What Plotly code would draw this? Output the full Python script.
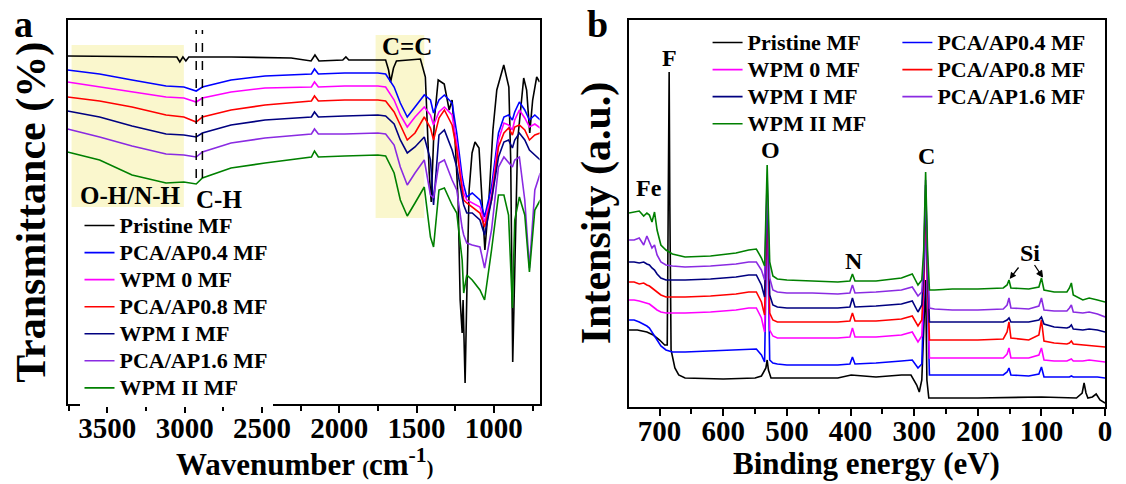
import plotly.graph_objects as go

W, H = 1126, 484
FONT = "Liberation Serif"

NAMES = ["Pristine MF", "PCA/AP0.4 MF", "WPM 0 MF", "PCA/AP0.8 MF",
         "WPM I MF", "PCA/AP1.6 MF", "WPM II MF"]
COLORS = ["#000000", "#0000ff", "#ff00ff", "#ff0000", "#000080", "#8a2be2", "#008000"]

# ---------------- FTIR (panel a) ----------------
WN_PRISTINE = [3757, 3050, 3031, 3011, 2992, 2973, 2697, 2311, 2182, 2157, 2131, 1977, 1957, 1938,
               1700, 1681, 1668, 1649, 1630, 1475, 1443, 1418, 1405, 1385, 1360, 1321, 1289, 1270,
               1250, 1231, 1218, 1205, 1199, 1186, 1173, 1160, 1141, 1122, 1096, 1077, 1058, 1032,
               1006, 981, 936, 903, 891, 878, 865, 846, 807, 788, 768, 749, 723, 704]
T_PRISTINE = [348, 347, 342, 347, 343, 347, 347, 346, 343, 349, 343, 344, 347, 344,
              344, 334, 322, 336, 343, 345, 327, 231, 202, 284, 324, 320, 294, 304,
              261, 204, 104, 71, 104, 21, 124, 214, 251, 262, 256, 204, 154, 204,
              274, 314, 339, 317, 244, 42, 124, 264, 326, 314, 271, 304, 327, 322]

WN_COATED = [3757, 3550, 3340, 3120, 3005, 2925, 2885, 2700, 2480, 2180, 2160, 2135, 1965, 1750,
             1700, 1645, 1605, 1560, 1510, 1450, 1410, 1390, 1355, 1320, 1270, 1240, 1205, 1195,
             1175, 1140, 1090, 1060, 1015, 970, 935, 905, 880, 865, 835, 800, 770, 735, 700]
T_PCA04 = [334, 330, 324, 318, 317, 313, 317, 324, 328, 330, 335, 330, 331, 331, 330, 317, 301, 287,
           297, 309, 304, 291, 304, 309, 301, 271, 227, 219, 207, 211, 204, 187, 217, 271, 287, 289,
           284, 292, 302, 294, 284, 289, 284]
T_WPM0 = [322, 317, 312, 307, 306, 302, 306, 312, 316, 317, 322, 317, 318, 318, 317, 304, 289, 277,
          287, 297, 289, 279, 292, 297, 289, 261, 219, 211, 204, 201, 197, 182, 209, 264, 281, 279,
          274, 284, 294, 286, 277, 280, 276]
T_PCA08 = [307, 303, 297, 289, 287, 282, 287, 294, 299, 303, 308, 303, 304, 304, 303, 292, 279, 264,
           271, 287, 276, 264, 286, 294, 279, 254, 214, 204, 201, 197, 191, 177, 204, 257, 271, 276,
           269, 277, 279, 274, 264, 269, 271]
T_WPMI = [293, 287, 278, 270, 269, 267, 271, 279, 284, 287, 292, 287, 288, 289, 288, 280, 264, 251,
          257, 267, 244, 199, 269, 274, 254, 237, 207, 199, 191, 191, 184, 169, 204, 247, 262, 264,
          256, 264, 271, 264, 254, 249, 244]
T_PCA16 = [275, 267, 258, 250, 249, 247, 252, 261, 266, 270, 275, 270, 270, 271, 270, 259, 237, 219,
           231, 244, 209, 206, 241, 244, 224, 214, 176, 169, 161, 159, 157, 136, 174, 237, 247, 242,
           237, 244, 247, 204, 136, 214, 231]
T_WPMII = [252, 244, 229, 221, 222, 220, 226, 236, 241, 247, 253, 247, 248, 249, 248, 231, 204, 188,
           201, 217, 167, 157, 214, 216, 199, 191, 144, 111, 129, 124, 114, 104, 154, 209, 209, 189,
           96, 184, 207, 189, 132, 194, 204]
FTIR_TICKS = [1000, 1500, 2000, 2500, 3000, 3500]

# ---------------- XPS (panel b) ----------------
BE_PRISTINE = [748, 735, 720, 710, 700, 692, 688, 686, 685, 684, 682, 676, 670, 660, 600, 550,
               540, 533, 531, 529, 525, 500, 420, 399, 360, 320, 305, 296, 292, 288, 284, 282,
               280, 277, 270, 200, 100, 45, 36, 33, 30, 27, 20, 14, 8, 3, 0]
I_PRISTINE = [77, 77, 75, 72, 67, 62, 62, 207, 335, 207, 57, 39, 32, 29, 28, 29,
              31, 39, 47, 37, 29, 29, 29, 32, 30, 32, 32, 22, 15, 27, 107, 127,
              27, 9, 9, 9, 10, 9, 14, 24, 14, 9, 10, 13, 7, 5, 4]

BE_COATED = [748, 740, 732, 725, 720, 716, 712, 708, 704, 698, 690, 680, 660, 620, 580, 560,
             548, 540, 535, 531, 527, 522, 515, 500, 460, 420, 401, 397, 393, 360, 320, 303,
             294, 288, 285, 282, 279, 276, 268, 240, 200, 160, 154, 151, 148, 120, 104, 100,
             96, 80, 60, 56, 53, 50, 35, 25, 12, 0]
I_PCA04 = [87, 87, 85, 83, 81, 79, 75, 71, 67, 61, 57, 55, 55, 56, 57, 58, 58, 52, 45, 202,
           47, 44, 43, 42, 42, 42, 43, 50, 43, 44, 46, 47, 39, 43, 107, 207, 107, 32, 32, 32,
           32, 32, 35, 39, 32, 31, 33, 40, 30, 30, 30, 30, 31, 30, 30, 30, 30, 29]
I_WPM0 = [107, 107, 106, 105, 104, 103, 101, 99, 97, 95, 94, 94, 94, 95, 97, 99, 99, 89, 75, 211,
          77, 71, 69, 69, 69, 69, 70, 79, 70, 70, 72, 75, 65, 71, 117, 212, 117, 49, 49, 49,
          49, 49, 53, 59, 49, 49, 52, 59, 47, 46, 46, 47, 48, 46, 46, 47, 46, 45]
I_PCA08 = [125, 125, 123, 124, 122, 121, 119, 117, 115, 112, 110, 110, 110, 111, 113, 115, 115, 105,
           92, 215, 94, 87, 85, 85, 85, 85, 86, 94, 86, 86, 88, 91, 81, 87, 127, 217, 127, 67, 67,
           67, 67, 68, 75, 85, 69, 67, 72, 87, 66, 64, 63, 64, 66, 63, 62, 62, 61, 60]
I_WPMI = [145, 145, 144, 145, 143, 142, 139, 137, 133, 129, 127, 127, 127, 128, 130, 132, 132, 122,
          110, 219, 112, 102, 100, 99, 99, 99, 100, 109, 100, 101, 103, 106, 95, 102, 137, 222, 137,
          85, 85, 85, 85, 85, 87, 89, 85, 85, 87, 90, 83, 80, 79, 80, 82, 78, 77, 78, 77, 75]
I_PCA16 = [167, 167, 169, 162, 171, 164, 159, 162, 152, 145, 142, 141, 140, 141, 143, 145, 145, 137,
           127, 229, 129, 117, 115, 114, 114, 113, 114, 122, 114, 115, 117, 120, 111, 115, 147, 227,
           147, 99, 98, 97, 97, 98, 102, 109, 99, 98, 101, 109, 97, 96, 96, 99, 102, 95, 94, 95, 93, 90]
I_WPMII = [194, 195, 196, 191, 194, 192, 185, 195, 177, 162, 157, 153, 150, 151, 154, 157, 158, 149,
           141, 242, 145, 131, 128, 127, 126, 125, 126, 133, 126, 126, 129, 133, 122, 127, 157, 235,
           157, 117, 117, 118, 118, 119, 122, 127, 119, 118, 120, 129, 117, 115, 115, 119, 124, 112,
           107, 109, 107, 105]
XPS_TICKS = [0, 100, 200, 300, 400, 500, 600, 700]

FTIR = [(WN_PRISTINE, T_PRISTINE), (WN_COATED, T_PCA04), (WN_COATED, T_WPM0), (WN_COATED, T_PCA08),
        (WN_COATED, T_WPMI), (WN_COATED, T_PCA16), (WN_COATED, T_WPMII)]
XPS = [(BE_PRISTINE, I_PRISTINE), (BE_COATED, I_PCA04), (BE_COATED, I_WPM0), (BE_COATED, I_PCA08),
       (BE_COATED, I_WPMI), (BE_COATED, I_PCA16), (BE_COATED, I_WPMII)]
XPS_LEGEND = ["legend2", "legend3", "legend2", "legend3", "legend2", "legend3", "legend2"]

for xs, ys in FTIR + XPS:
    if len(xs) != len(ys):
        raise ValueError("length mismatch %d %d" % (len(xs), len(ys)))


def px(x):
    return x / W


def py(y):
    return 1 - y / H


def legend_name(name):
    return "<span style='font-size:22px'>%s</span>" % name


fig = go.Figure()
for i, (xs, ys) in enumerate(FTIR):
    fig.add_trace(go.Scatter(x=xs, y=ys, mode="lines", name=legend_name(NAMES[i]),
                             line=dict(color=COLORS[i], width=1.6),
                             xaxis="x", yaxis="y", legend="legend"))
for i, (xs, ys) in enumerate(XPS):
    fig.add_trace(go.Scatter(x=xs, y=ys, mode="lines", name=legend_name(NAMES[i]),
                             line=dict(color=COLORS[i], width=1.6),
                             xaxis="x2", yaxis="y2", legend=XPS_LEGEND[i]))

tickfont = dict(family=FONT, size=29, color="black", weight="bold")
common_x = dict(ticks="outside", ticklen=7, tickwidth=2, tickcolor="black", showline=True,
                linewidth=2, linecolor="black", mirror=True, showgrid=False, zeroline=False,
                tickfont=tickfont, ticklabelstandoff=-10)
common_y = dict(showticklabels=False, ticks="", showline=True, linewidth=2, linecolor="black",
                mirror=True, showgrid=False, zeroline=False)

legend_font = dict(family=FONT, size=18.5, color="black", weight="bold")


def lab(text, x, y, size, **kw):
    return dict(text=text, x=px(x), y=py(y), xref="paper", yref="paper", showarrow=False,
                font=dict(family=FONT, size=size, color="black", weight="bold"),
                xanchor="center", yanchor="middle", **kw)


si_label = lab("Si", 1036, 253, 24)
si_label.update(dict(x=px(1016), y=py(279), showarrow=True, ax=20, ay=-26,
                     arrowhead=2, arrowsize=1, arrowwidth=1.3, arrowcolor="black"))

annotations = [
    lab("a", 24, 24, 38),
    lab("b", 601, 24, 38),
    lab("Transmittance (%)", 31, 212, 42, textangle=-90),
    lab("Intensity (a.u.)", 600, 213, 42, textangle=-90),
    lab("Wavenumber <span style='font-size:20px'>(</span>cm<sup>-1</sup><span style='font-size:20px'>)</span>",
        306, 462, 31),
    lab("Binding energy (eV)", 872, 463, 31),
    lab("O-H/N-H", 131, 195, 25),
    lab("C-H", 220, 200, 25),
    lab("C=C", 410, 47, 25),
    lab("F", 674, 58, 24),
    lab("Fe", 653, 188, 24),
    lab("O", 775, 150, 24),
    lab("N", 859, 261, 24),
    lab("C", 932, 156, 24),
    si_label,
]


def pth(points, close=False):
    s = " ".join(("M" if k == 0 else "L") + " %.5f,%.5f" % (px(x), py(y))
                 for k, (x, y) in enumerate(points))
    return s + (" Z" if close else "")


YELLOW = "rgba(250,246,200,0.9)"
shapes = [
    dict(type="rect", xref="x", yref="y", x0=3731, x1=3005, y0=197, y1=359,
         fillcolor=YELLOW, line=dict(width=0), layer="below"),
    dict(type="rect", xref="x", yref="y", x0=1765, x1=1450, y0=186, y1=369,
         fillcolor=YELLOW, line=dict(width=0), layer="below"),
    dict(type="line", xref="x", yref="y", x0=2925, x1=2925, y0=226, y1=374,
         line=dict(color="black", width=1.5, dash="dash")),
    dict(type="line", xref="x", yref="y", x0=2885, x1=2885, y0=226, y1=374,
         line=dict(color="black", width=1.5, dash="dash")),
    # second Si arrow
    dict(type="path", xref="paper", yref="paper", path=pth([(1041, 265), (1047, 274)]),
         line=dict(color="black", width=1.3)),
    dict(type="path", xref="paper", yref="paper",
         path=pth([(1049, 277), (1043.2, 273.7), (1048.2, 270.3)], close=True),
         fillcolor="black", line=dict(color="black", width=1)),
]

fig.update_layout(
    width=W, height=H, margin=dict(l=0, r=0, t=0, b=0),
    paper_bgcolor="white", plot_bgcolor="white",
    font=dict(family=FONT, color="black"),
    xaxis=dict(domain=[px(68), px(543)], range=[3757, 704], tickvals=FTIR_TICKS,
               ticktext=["<b>%d</b>" % v for v in FTIR_TICKS], anchor="y",
               minor=dict(dtick=250, tick0=0, ticks="outside", ticklen=5, tickwidth=2,
                          tickcolor="black", showgrid=False), **common_x),
    yaxis=dict(domain=[py(404), py(20)], range=[0, 384], anchor="x", **common_y),
    xaxis2=dict(domain=[px(633), px(1112)], range=[748, 0], tickvals=XPS_TICKS,
                ticktext=["<b>%d</b>" % v for v in XPS_TICKS], anchor="y2",
                minor=dict(dtick=50, tick0=0, ticks="outside", ticklen=5, tickwidth=2,
                           tickcolor="black", showgrid=False), **common_x),
    yaxis2=dict(domain=[py(407), py(20)], range=[0, 387], anchor="x2", **common_y),
    legend=dict(x=px(80), y=py(207), xanchor="left", yanchor="top", bgcolor="white",
                font=legend_font, tracegroupgap=0, itemwidth=30),
    legend2=dict(x=px(712), y=py(24), xanchor="left", yanchor="top", bgcolor="rgba(255,255,255,0)",
                 font=legend_font, tracegroupgap=0, itemwidth=30),
    legend3=dict(x=px(903), y=py(24), xanchor="left", yanchor="top", bgcolor="rgba(255,255,255,0)",
                 font=legend_font, tracegroupgap=0, itemwidth=30),
    annotations=annotations,
    shapes=shapes,
    showlegend=True,
)

fig.write_html("out.html", config={"displayModeBar": False},
               post_script="document.body.style.margin='0';document.body.style.padding='0';")
